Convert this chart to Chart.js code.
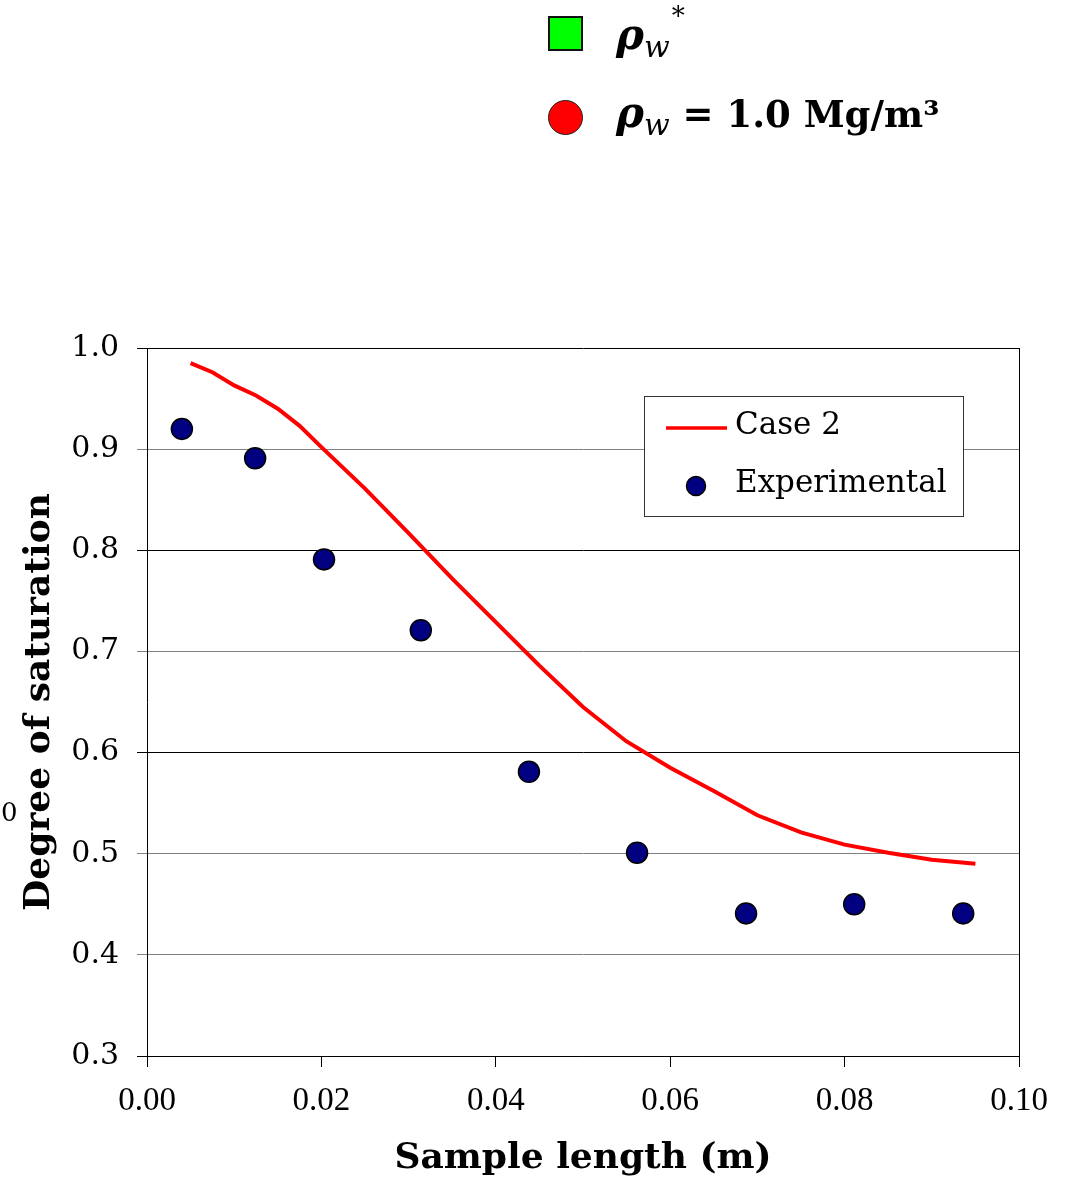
<!DOCTYPE html>
<html>
<head>
<meta charset="utf-8">
<script src="https://cdn.jsdelivr.net/npm/chart.js@4.4.1/dist/chart.umd.min.js"></script>
<style>
  body { margin: 0; background: #fff; }
  #wrap { position: relative; width: 1075px; height: 1180px; overflow: hidden; }
  #wrap canvas { position: absolute; left: 0; top: 0; }
  .swatch { position: absolute; box-sizing: border-box; }
  .row { position: absolute; left: 616px; white-space: nowrap; font-family: "DejaVu Serif", serif; line-height: 40px; }
  .rho { font-style: italic; font-size: 42px; font-weight: bold; }
  .sub { font-style: italic; font-size: 30px; position: relative; top: 8px; }
  .sup { font-size: 26px; position: relative; top: -24px; left: 2px; }
  .eq { font-weight: bold; font-size: 37px; }
  #stray { position: absolute; left: 1px; top: 795px; font-family: "DejaVu Serif", serif; font-size: 26px; line-height: 34px; }
</style>
</head>
<body>
<div id="wrap">
  <canvas id="chartSaturation" width="1075" height="1180"></canvas>
  <div class="swatch" style="left:548px;top:16px;width:35px;height:35px;background:#00ff00;border:2px solid #111;"></div>
  <div class="row" style="top:15px;"><span class="rho">ρ</span><span class="sub">w</span><span class="sup">*</span></div>
  <div class="swatch" style="left:548px;top:100px;width:35px;height:35px;background:#ff0000;border:1.5px solid #222;border-radius:50%;"></div>
  <div class="row" style="top:93px;"><span class="rho">ρ</span><span class="sub">w</span><span class="eq"> = 1.0 Mg/m³</span></div>
  <div id="stray">0</div>
</div>
<script>
// ===============================
// DATA
// ===============================
const expLength = [0.0040, 0.0124, 0.0203, 0.0314, 0.0438, 0.0562, 0.0687, 0.0811, 0.0936];
const expSaturation = [0.920, 0.891, 0.791, 0.721, 0.581, 0.501, 0.441, 0.450, 0.441];

const case2Length = [0.005, 0.0075, 0.010, 0.0125, 0.015, 0.0175, 0.020, 0.025, 0.030, 0.035, 0.040,
                     0.045, 0.050, 0.055, 0.060, 0.065, 0.070, 0.075, 0.080, 0.085, 0.090, 0.095];
const case2Saturation = [0.985, 0.976, 0.963, 0.953, 0.940, 0.923, 0.902, 0.861, 0.817, 0.772, 0.729,
                         0.686, 0.645, 0.611, 0.585, 0.562, 0.538, 0.521, 0.509, 0.501, 0.494, 0.490];

const xTicks = { min: 0, max: 0.10, step: 0.02 };
const yTicks = { min: 0.3, max: 1.0, step: 0.1 };

// ===============================
// HELPERS
// ===============================
function toPoints(xs, ys) {
  return xs.map((x, i) => ({ x: x, y: ys[i] }));
}

// legend box inside the plot
const innerLegend = {
  id: "innerLegend",
  afterDraw(chart) {
    const { ctx, chartArea } = chart;
    const w = 319, h = 120;
    const bx = chartArea.right - 56 - w;
    const by = chartArea.top + 48;
    ctx.save();
    ctx.fillStyle = "#fff";
    ctx.fillRect(bx, by, w, h);
    ctx.strokeStyle = "#333";
    ctx.lineWidth = 1;
    ctx.strokeRect(bx + 0.5, by + 0.5, w, h);

    ctx.strokeStyle = "#ff0000";
    ctx.lineWidth = 3.5;
    ctx.beginPath();
    ctx.moveTo(bx + 22, by + 32);
    ctx.lineTo(bx + 83, by + 32);
    ctx.stroke();

    ctx.fillStyle = "#000080";
    ctx.strokeStyle = "#000";
    ctx.lineWidth = 1.5;
    ctx.beginPath();
    ctx.arc(bx + 52, by + 90, 9.5, 0, Math.PI * 2);
    ctx.fill();
    ctx.stroke();

    ctx.fillStyle = "#000";
    ctx.font = "31px 'DejaVu Serif'";
    ctx.textBaseline = "middle";
    ctx.textAlign = "left";
    ctx.fillText("Case 2", bx + 91, by + 30);
    ctx.fillText("Experimental", bx + 91, by + 88);
    ctx.restore();
  }
};

// ===============================
// CHART
// ===============================
const chartSaturation = new Chart(document.getElementById("chartSaturation"), {
  type: "scatter",
  data: {
    datasets: [
      {
        label: "Case 2",
        data: toPoints(case2Length, case2Saturation),
        showLine: true,
        borderColor: "#ff0000",
        borderWidth: 4,
        pointRadius: 0,
        tension: 0,
        order: 2
      },
      {
        label: "Experimental",
        data: toPoints(expLength, expSaturation),
        backgroundColor: "#000080",
        borderColor: "#000",
        borderWidth: 1.5,
        pointRadius: 10.5,
        order: 1
      }
    ]
  },
  options: {
    responsive: false,
    animation: false,
    devicePixelRatio: 1,
    layout: { padding: { top: 348, right: 56, left: 0, bottom: 0 } },
    plugins: { legend: { display: false }, tooltip: { enabled: false } },
    scales: {
      x: {
        type: "linear",
        min: xTicks.min,
        max: xTicks.max,
        afterFit: s => { s.height = 124; },
        ticks: {
          stepSize: xTicks.step,
          padding: 15,
          color: "#000",
          font: { family: "Liberation Serif", size: 33 },
          callback: v => v.toFixed(2)
        },
        grid: {
          color: c => (Math.abs(c.tick.value - 0.1) < 1e-9 ? "#000" : "transparent"),
          tickColor: "#000",
          tickLength: 11,
          lineWidth: 1
        },
        border: { color: "#000", width: 1 },
        title: {
          display: true,
          text: "Sample length (m)",
          color: "#000",
          font: { family: "DejaVu Serif", size: 36, weight: "bold" },
          padding: { top: 0, bottom: 0 }
        }
      },
      y: {
        min: yTicks.min,
        max: yTicks.max,
        afterFit: s => { s.width = 147; },
        ticks: {
          stepSize: yTicks.step,
          padding: 18,
          color: "#000",
          font: { family: "DejaVu Serif", size: 30 },
          callback: v => v.toFixed(1)
        },
        grid: {
          color: c => ([3, 6, 8, 10].includes(Math.round(c.tick.value * 10)) ? "#000" : "#808080"),
          tickLength: 10,
          lineWidth: 1
        },
        border: { color: "#000", width: 1 },
        title: {
          display: true,
          text: "Degree of saturation",
          color: "#000",
          font: { family: "DejaVu Serif", size: 36, weight: "bold" },
          padding: { top: 18, bottom: 0 }
        }
      }
    }
  },
  plugins: [innerLegend]
});
</script>
</body>
</html>
